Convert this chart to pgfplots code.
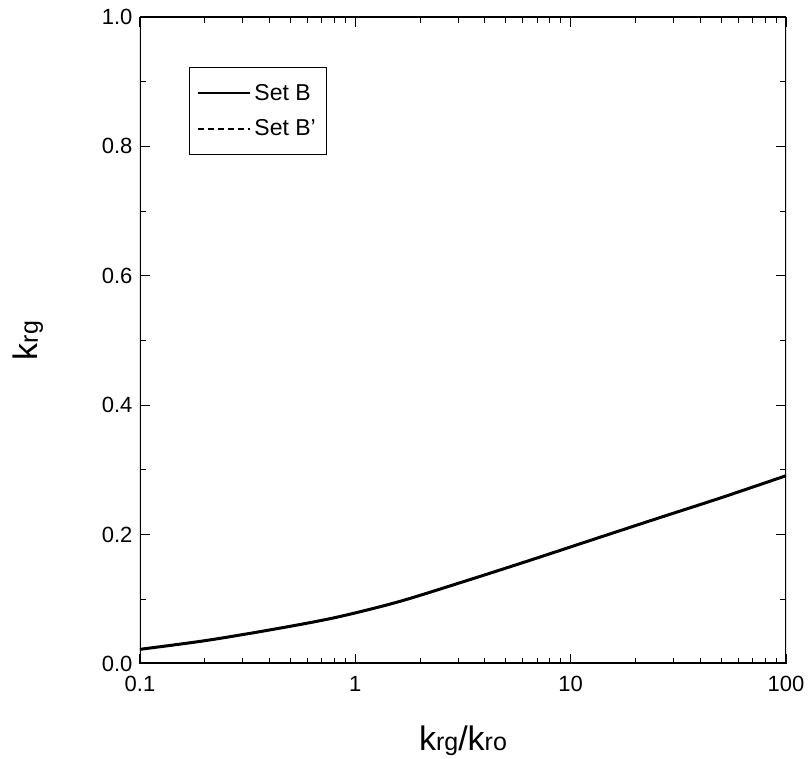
\documentclass[border=0pt]{standalone}
\usepackage{pgfplots}
\pgfplotsset{compat=1.18}
\usepackage{fontspec}
\setmainfont{Liberation Sans}
\newcommand\legfont{\fontsize{23}{27}\selectfont}
\newcommand\tickfont{\fontsize{22}{26}\selectfont}
\begin{document}
\begin{tikzpicture}
\begin{axis}[
  scale only axis, width=646pt, height=647pt,
  xmode=log, xmin=0.1, xmax=100, ymin=0, ymax=1,
  xtick={0.1,1,10,100}, xticklabels={0.1,1,10,100},
  extra x ticks={0.2,0.3,0.4,0.5,0.6,0.7,0.8,0.9,2,3,4,5,6,7,8,9,20,30,40,50,60,70,80,90},
  extra x tick labels={},
  extra x tick style={major tick length=6pt},
  ytick={0,0.2,0.4,0.6,0.8,1.0}, yticklabels={0.0,0.2,0.4,0.6,0.8,1.0},
  minor ytick={0.1,0.3,0.5,0.7,0.9},
  tick align=inside, major tick length=10pt, minor tick length=6pt,
  every tick/.style={black, line width=1pt},
  axis line style={draw=none},
  ticklabel style={font=\tickfont},
  xticklabel style={yshift=-9pt},
  yticklabel style={xshift=-4pt},
  /pgf/number format/assume math mode=true,
  xlabel={{\fontsize{34}{34}\selectfont k}{\fontsize{25}{25}\selectfont rg}{\fontsize{34}{34}\selectfont /k}{\fontsize{25}{25}\selectfont ro}},
  xlabel style={at={(axis description cs:0.5,-0.133)}, anchor=base},
  ylabel={{\fontsize{34}{34}\selectfont k}{\fontsize{25}{25}\selectfont rg}},
  ylabel style={at={(axis description cs:-0.158,0.5)}, anchor=base, rotate=0},
  legend style={at={(axis description cs:0.076,0.923)}, anchor=north west,
    draw=black, line width=0.8pt,
    inner xsep=8pt, inner ysep=14pt, row sep=12pt,
    nodes={inner sep=3pt}},
  legend cell align=left,
  legend image code/.code={\draw[#1] (0pt,0pt) -- (49pt,0pt); \path (0pt,0pt) -- (52pt,0pt);},
]
\addlegendimage{black, line width=2pt}
\addlegendentry{\legfont Set B}
\addlegendimage{black, line width=2pt, dash pattern=on 6pt off 4pt}
\addlegendentry{\legfont Set B'}
\addplot[black, line width=1.8pt, dash pattern=on 6pt off 4pt, smooth, forget plot] coordinates {
(0.1,0.0227) (0.2,0.036) (0.4,0.0526) (0.8,0.0715) (1.58,0.096) (3.16,0.127)
(6.3,0.159) (12.6,0.192) (25,0.2245) (50,0.257) (100,0.291)};
\addplot[black, line width=3pt, smooth, forget plot] coordinates {
(0.1,0.0227) (0.2,0.036) (0.4,0.0526) (0.8,0.0715) (1.58,0.096) (3.16,0.127)
(6.3,0.159) (12.6,0.192) (25,0.2245) (50,0.257) (100,0.291)};
\draw[line width=3pt] (rel axis cs:0,1) -- (rel axis cs:0,0) -- (rel axis cs:1,0) -- (rel axis cs:1,1);
\draw[line width=1.5pt] (rel axis cs:0,1) -- (rel axis cs:1,1);
\end{axis}
\path (current axis.south west) +(-140pt,-94pt);
\path (current axis.north east) +(22pt,17pt);
\end{tikzpicture}
\end{document}
